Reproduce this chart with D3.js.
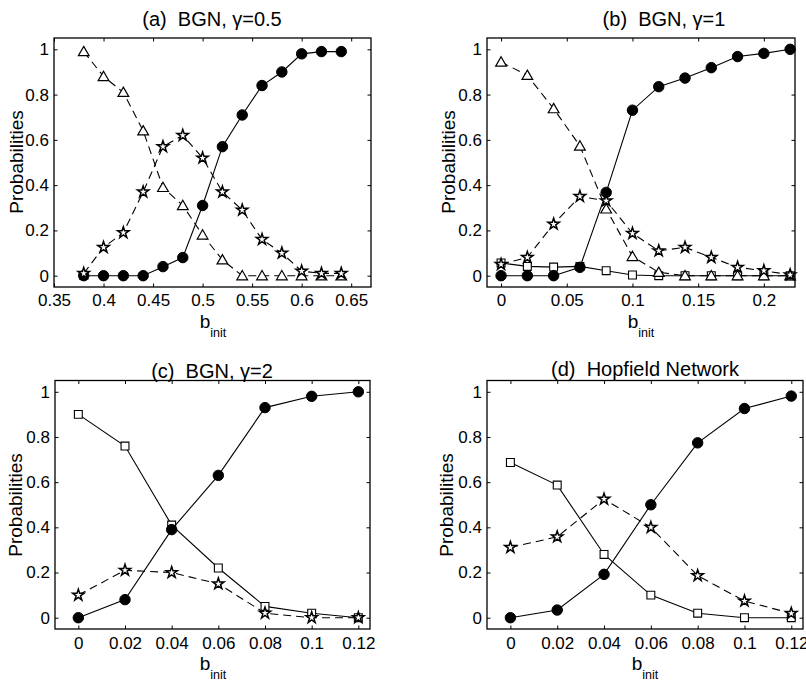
<!DOCTYPE html>
<html>
<head>
<meta charset="utf-8">
<script src="https://cdn.jsdelivr.net/npm/d3@7"></script>
<style>
  body { margin: 0; background: #fff; }
  svg { display: block; font-family: "Liberation Sans", Arial, Helvetica, sans-serif; }
  .box { fill: none; stroke: #000; stroke-width: 1.3; }
  .tick line { stroke: #000; stroke-width: 1; }
  .tick text { font-size: 17px; fill: #000; }
  .line-solid { fill: none; stroke: #000; stroke-width: 1.1; }
  .line-dash { fill: none; stroke: #000; stroke-width: 1.1; stroke-dasharray: 8 5; }
</style>
</head>
<body>
<div id="fig"></div>
<script>
// ---- data ----
const yTicks = [0, 0.2, 0.4, 0.6, 0.8, 1];

// (a) BGN, gamma = 0.5
const xA = [0.38, 0.40, 0.42, 0.44, 0.46, 0.48, 0.50, 0.52, 0.54, 0.56, 0.58, 0.60, 0.62, 0.64];
const aCircle   = [0, 0, 0, 0, 0.04, 0.08, 0.31, 0.57, 0.71, 0.84, 0.90, 0.98, 0.99, 0.99];
const aTriangle = [0.99, 0.88, 0.81, 0.64, 0.39, 0.31, 0.18, 0.07, 0, 0, 0, 0, 0, 0];
const aStar     = [0.01, 0.125, 0.19, 0.37, 0.57, 0.62, 0.52, 0.37, 0.29, 0.16, 0.10, 0.02, 0.01, 0.01];
const xTicksA = [0.35, 0.4, 0.45, 0.5, 0.55, 0.6, 0.65];

// (b) BGN, gamma = 1
const xB = [0, 0.02, 0.04, 0.06, 0.08, 0.10, 0.12, 0.14, 0.16, 0.18, 0.20, 0.22];
const bCircle   = [0, 0, 0, 0.037, 0.368, 0.731, 0.835, 0.873, 0.919, 0.968, 0.982, 1.0];
const bTriangle = [0.944, 0.885, 0.738, 0.573, 0.295, 0.085, 0.015, 0, 0, 0, 0, 0];
const bStar     = [0.05, 0.081, 0.228, 0.35, 0.331, 0.187, 0.11, 0.125, 0.081, 0.037, 0.022, 0.004];
const bSquare   = [0.056, 0.041, 0.038, 0.041, 0.022, 0.003, 0, 0, 0, 0, 0, 0];
const xTicksB = [0, 0.05, 0.1, 0.15, 0.2];

// (c) BGN, gamma = 2
const xC = [0, 0.02, 0.04, 0.06, 0.08, 0.10, 0.12];
const cCircle = [0, 0.08, 0.39, 0.63, 0.93, 0.98, 1.0];
const cSquare = [0.90, 0.76, 0.41, 0.22, 0.05, 0.02, 0];
const cStar   = [0.10, 0.21, 0.20, 0.15, 0.02, 0, 0];

// (d) Hopfield Network
const xD = [0, 0.02, 0.04, 0.06, 0.08, 0.10, 0.12];
const dCircle = [0, 0.034, 0.192, 0.50, 0.774, 0.926, 0.981];
const dSquare = [0.687, 0.587, 0.28, 0.10, 0.02, 0, 0];
const dStar   = [0.311, 0.358, 0.525, 0.40, 0.186, 0.074, 0.019];
const xTicksCD = [0, 0.02, 0.04, 0.06, 0.08, 0.1, 0.12];

const titles = ['(a)  BGN, \u03b3=0.5', '(b)  BGN, \u03b3=1', '(c)  BGN, \u03b3=2', '(d)  Hopfield Network'];

// ---- layout ----
const width = 806, height = 685;

const panels = [
  { title: titles[0], left: 54, right: 371, top: 38, bottom: 287, xDomain: [0.35, 0.67], xTicks: xTicksA,
    pad: 7, titleX: 212, titleY: 26, ylabX: 23, ylabY: 162, labX: 213, labY: 328,
    series: [
      { x: xA, y: aCircle, marker: 'circle', dash: false },
      { x: xA, y: aTriangle, marker: 'triangle', dash: true },
      { x: xA, y: aStar, marker: 'star', dash: true }
    ] },
  { title: titles[1], left: 487, right: 795, top: 38, bottom: 287, xDomain: [-0.0107, 0.2237], xTicks: xTicksB,
    pad: 7, titleX: 664, titleY: 26, ylabX: 455, ylabY: 162, labX: 641, labY: 328,
    series: [
      { x: xB, y: bSquare, marker: 'square', dash: false },
      { x: xB, y: bCircle, marker: 'circle', dash: false },
      { x: xB, y: bTriangle, marker: 'triangle', dash: true },
      { x: xB, y: bStar, marker: 'star', dash: true }
    ] },
  { title: titles[2], left: 55, right: 370, top: 380.5, bottom: 629, xDomain: [-0.01, 0.125], xTicks: xTicksCD,
    pad: 8, titleX: 212, titleY: 378, ylabX: 22, ylabY: 505, labX: 213, labY: 670,
    series: [
      { x: xC, y: cSquare, marker: 'square', dash: false },
      { x: xC, y: cCircle, marker: 'circle', dash: false },
      { x: xC, y: cStar, marker: 'star', dash: true }
    ] },
  { title: titles[3], left: 487, right: 803, top: 380.5, bottom: 629, xDomain: [-0.01, 0.125], xTicks: xTicksCD,
    pad: 8, titleX: 645, titleY: 376, ylabX: 453, ylabY: 505, labX: 645, labY: 670,
    series: [
      { x: xD, y: dSquare, marker: 'square', dash: false },
      { x: xD, y: dCircle, marker: 'circle', dash: false },
      { x: xD, y: dStar, marker: 'star', dash: true }
    ] }
];

const svg = d3.select('#fig').append('svg')
  .attr('width', width)
  .attr('height', height);

const symbols = {
  circle:   { type: d3.symbolCircle, size: 86, fill: '#000', sw: 1 },
  square:   { type: d3.symbolSquare, size: 62, fill: '#fff', sw: 1.1 },
  triangle: { type: d3.symbolTriangle, size: 50, fill: '#fff', sw: 1.2 },
  star:     { type: d3.symbolStar, size: 40, fill: '#fff', sw: 1.5 }
};

const fmt = d => String(d);

panels.forEach(p => {
  const xScale = d3.scaleLinear().domain(p.xDomain).range([p.left, p.right]);
  const yScale = d3.scaleLinear().domain([-0.05, 1.05]).range([p.bottom, p.top]);

  const g = svg.append('g');

  // inward ticks on all four sides
  g.append('g')
    .attr('transform', `translate(0, ${p.bottom})`)
    .call(d3.axisBottom(xScale).tickValues(p.xTicks).tickFormat(fmt).tickSize(-3.5).tickPadding(p.pad))
    .call(a => a.select('.domain').remove())
    .call(a => a.selectAll('text').attr('dy', '0.71em'));
  g.append('g')
    .attr('transform', `translate(0, ${p.top})`)
    .call(d3.axisTop(xScale).tickValues(p.xTicks).tickFormat('').tickSize(-3.5))
    .call(a => a.select('.domain').remove());
  g.append('g')
    .attr('transform', `translate(${p.left}, 0)`)
    .call(d3.axisLeft(yScale).tickValues(yTicks).tickFormat(fmt).tickSize(-3.5).tickPadding(5))
    .call(a => a.select('.domain').remove());
  g.append('g')
    .attr('transform', `translate(${p.right}, 0)`)
    .call(d3.axisRight(yScale).tickValues(yTicks).tickFormat('').tickSize(-3.5))
    .call(a => a.select('.domain').remove());

  g.append('rect')
    .attr('class', 'box')
    .attr('x', p.left).attr('y', p.top)
    .attr('width', p.right - p.left).attr('height', p.bottom - p.top);

  const line = d3.line()
    .x(d => xScale(d[0]))
    .y(d => yScale(d[1]));

  p.series.forEach(s => {
    const pts = s.x.map((x, i) => [x, s.y[i]]);
    g.append('path')
      .attr('class', s.dash ? 'line-dash' : 'line-solid')
      .attr('d', line(pts));
    const sym = symbols[s.marker];
    g.selectAll(null)
      .data(pts)
      .join('path')
      .attr('transform', d => `translate(${xScale(d[0])}, ${yScale(d[1]) + (s.marker === 'triangle' ? 1 : 0)})`)
      .attr('d', d3.symbol().type(sym.type).size(sym.size))
      .attr('fill', sym.fill)
      .attr('stroke', '#000')
      .attr('stroke-width', sym.sw)
      .attr('stroke-linejoin', 'miter');
  });

  // title
  g.append('text')
    .attr('x', p.titleX).attr('y', p.titleY)
    .attr('text-anchor', 'middle')
    .attr('font-size', 20)
    .style('white-space', 'pre')
    .text(p.title);

  // y label
  g.append('text')
    .attr('transform', `translate(${p.ylabX}, ${p.ylabY}) rotate(-90)`)
    .attr('text-anchor', 'middle')
    .attr('font-size', 19)
    .text('Probabilities');

  // x label b_init
  const lab = g.append('text')
    .attr('x', p.labX).attr('y', p.labY)
    .attr('text-anchor', 'middle')
    .attr('font-size', 19);
  lab.append('tspan').text('b');
  lab.append('tspan').attr('font-size', 12.5).attr('dy', 9).text('init');
});
</script>
</body>
</html>
